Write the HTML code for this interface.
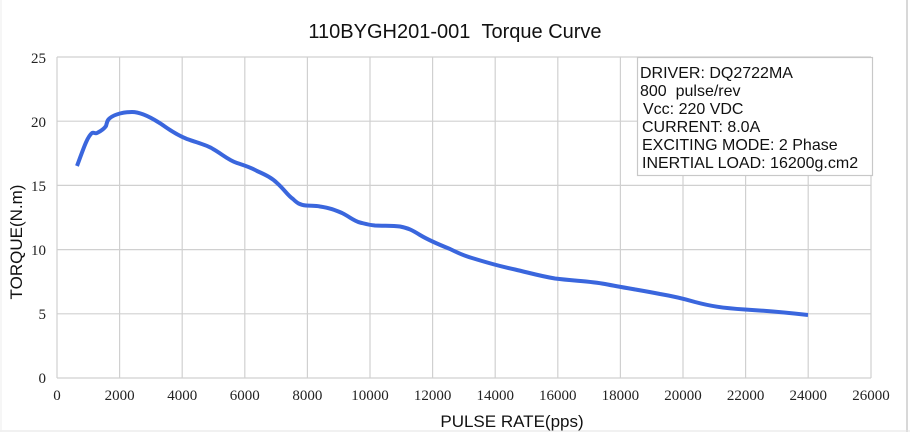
<!DOCTYPE html>
<html><head><style>
body{margin:0;background:#fff;}
svg{display:block;}
.t{font-family:"Liberation Serif",serif;font-size:15px;fill:#222;}
.s{font-family:"Liberation Sans",sans-serif;fill:#111;}
</style></head><body>
<svg width="910" height="432" viewBox="0 0 910 432" xmlns="http://www.w3.org/2000/svg">
<rect x="0" y="0" width="910" height="432" fill="#fff"/>
<line x1="907" y1="0" x2="907" y2="432" stroke="#ccc" stroke-width="1.5"/>
<line x1="0" y1="431" x2="910" y2="431" stroke="#e3e3e3" stroke-width="1"/>
<line x1="1" y1="0" x2="1" y2="432" stroke="#eee" stroke-width="1"/>
<text class="s" x="455" y="38" font-size="20" text-anchor="middle">110BYGH201-001&#160;&#160;Torque Curve</text>
<g stroke="#d0d0d0" stroke-width="1.2">
<line x1="57" y1="57" x2="871" y2="57"/>
<line x1="57" y1="121.2" x2="871" y2="121.2"/>
<line x1="57" y1="185.4" x2="871" y2="185.4"/>
<line x1="57" y1="249.6" x2="871" y2="249.6"/>
<line x1="57" y1="313.8" x2="871" y2="313.8"/>
<line x1="57" y1="378" x2="871" y2="378"/>
<line x1="57" y1="57" x2="57" y2="378"/>
<line x1="119.6" y1="57" x2="119.6" y2="378"/>
<line x1="182.2" y1="57" x2="182.2" y2="378"/>
<line x1="244.8" y1="57" x2="244.8" y2="378"/>
<line x1="307.4" y1="57" x2="307.4" y2="378"/>
<line x1="370" y1="57" x2="370" y2="378"/>
<line x1="432.6" y1="57" x2="432.6" y2="378"/>
<line x1="495.2" y1="57" x2="495.2" y2="378"/>
<line x1="557.8" y1="57" x2="557.8" y2="378"/>
<line x1="620.4" y1="57" x2="620.4" y2="378"/>
<line x1="683" y1="57" x2="683" y2="378"/>
<line x1="745.6" y1="57" x2="745.6" y2="378"/>
<line x1="808.2" y1="57" x2="808.2" y2="378"/>
<line x1="871" y1="57" x2="871" y2="378"/>
</g>
<g class="t" text-anchor="end">
<text x="46" y="63">25</text><text x="46" y="127">20</text><text x="46" y="191">15</text>
<text x="46" y="255">10</text><text x="46" y="319">5</text><text x="46" y="383">0</text>
</g>
<g class="t" text-anchor="middle">
<text x="57" y="400">0</text><text x="119.6" y="400">2000</text><text x="182.2" y="400">4000</text>
<text x="244.8" y="400">6000</text><text x="307.4" y="400">8000</text><text x="370" y="400">10000</text>
<text x="432.6" y="400">12000</text><text x="495.2" y="400">14000</text><text x="557.8" y="400">16000</text>
<text x="620.4" y="400">18000</text><text x="683" y="400">20000</text><text x="745.6" y="400">22000</text>
<text x="808.2" y="400">24000</text><text x="871" y="400">26000</text>
</g>
<text class="s" x="512" y="427" font-size="17" text-anchor="middle">PULSE RATE(pps)</text>
<text class="s" font-size="17" text-anchor="middle" transform="translate(22,242) rotate(-90)">TORQUE(N.m)</text>
<path fill="none" stroke="#3a66dd" stroke-width="4" stroke-linecap="butt" stroke-linejoin="round"
d="M77,166 C83,150 87,137 92,133 C94,132 95,134 97,133 C101,131 104,129 106,126 C107,123 107,120 110,118 C115,114 124,112 132,112 C140,112 150,117 158,122 C165,126 172,133 187,139 C198,143 207,145 213,149 C222,154 228,160 237,163 C246,166 250,167 257,171 C266,175 272,178 277,183 C284,189 288,196 293,199 C297,203 300,205 306,205.5 C312,206 315,205.5 320,206.5 C330,208 335,210 342,213 C350,217 354,221 360,222.5 C366,224 369,225 375,225.5 C385,226 392,225.5 400,226.5 C408,228 412,230 420,235 C430,241 440,245 450,249 C458,253 465,256 472,258 C485,262 498,266 515,269.5 C530,273 540,276 555,278.5 C575,281 590,281 605,284 C625,288 640,290 660,294 C675,296.5 683,298.5 695,302 C710,306 722,308 745,309.5 C770,311 790,313 808,315"/>
<rect x="637.5" y="57.5" width="235" height="118" fill="#fff" stroke="#c8c8c8" stroke-width="1.2"/>
<g class="s" font-size="16">
<text x="640" y="78">DRIVER: DQ2722MA</text>
<text x="640" y="96">800&#160;&#160;pulse/rev</text>
<text x="643" y="114">Vcc: 220 VDC</text>
<text x="642" y="132">CURRENT: 8.0A</text>
<text x="642" y="150">EXCITING MODE: 2 Phase</text>
<text x="642" y="168">INERTIAL LOAD: 16200g.cm2</text>
</g>
</svg>
</body></html>
